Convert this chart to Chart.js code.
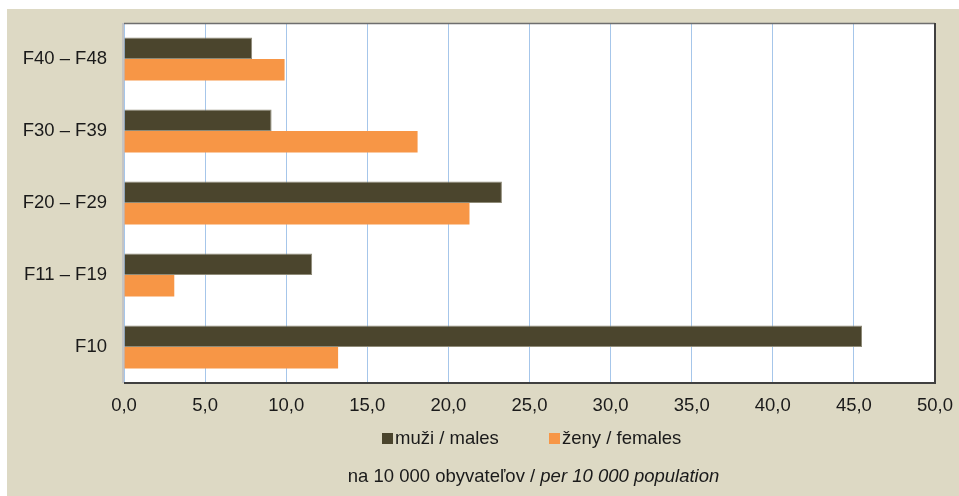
<!DOCTYPE html>
<html>
<head>
<meta charset="utf-8">
<script src="https://cdn.jsdelivr.net/npm/chart.js@4.4.1/dist/chart.umd.min.js"></script>
<style>
html,body{margin:0;padding:0;background:#ffffff;}
#wrap{position:relative;width:959px;height:496px;}
</style>
</head>
<body>
<div id="wrap"><canvas id="c" width="959" height="496"></canvas></div>
<script>
const categories = ['F40 – F48', 'F30 – F39', 'F20 – F29', 'F11 – F19', 'F10'];
const males = [7.9, 9.1, 23.3, 11.6, 45.5];
const females = [9.9, 18.1, 21.3, 3.1, 13.2];
const seriesNames = ['muži / males', 'ženy / females'];
const footerNormal = 'na 10 000 obyvateľov / ';
const footerItalic = 'per 10 000 population';

const FONT = '"Liberation Sans", Arial, sans-serif';
const FS = 18.5;
const colMales = '#4b452d';
const colFemales = '#f79646';

const bgPlugin = {
  id: 'bg',
  beforeDraw(chart) {
    const ctx = chart.ctx;
    ctx.save();
    ctx.fillStyle = '#ffffff';
    ctx.fillRect(0, 0, chart.width, chart.height);
    ctx.fillStyle = '#ddd9c4';
    ctx.fillRect(7, 9, chart.width - 7, chart.height - 9);
    const a = chart.chartArea;
    ctx.fillStyle = '#ffffff';
    ctx.fillRect(a.left, a.top, a.right - a.left, a.bottom - a.top);
    ctx.restore();
  },
  afterDraw(chart) {
    const ctx = chart.ctx;
    const a = chart.chartArea;
    ctx.save();
    ctx.lineWidth = 1.5;
    ctx.strokeStyle = '#6e6e6e';
    ctx.beginPath(); ctx.moveTo(a.left, a.top + 0.5); ctx.lineTo(a.right, a.top + 0.5); ctx.stroke();
    ctx.strokeStyle = '#c4c4c4';
    ctx.lineWidth = 2;
    ctx.beginPath(); ctx.moveTo(a.left - 1, a.top); ctx.lineTo(a.left - 1, a.bottom); ctx.stroke();
    ctx.strokeStyle = '#404040';
    ctx.lineWidth = 2;
    ctx.beginPath(); ctx.moveTo(a.left, a.bottom); ctx.lineTo(a.right, a.bottom); ctx.lineTo(a.right, a.top); ctx.stroke();

    // legend
    ctx.font = FS + 'px ' + FONT;
    ctx.textBaseline = 'middle';
    ctx.textAlign = 'left';
    const ly = 439;
    const items = [{x: 382, c: colMales, t: seriesNames[0]}, {x: 549, c: colFemales, t: seriesNames[1]}];
    items.forEach(it => {
      ctx.fillStyle = it.c;
      ctx.fillRect(it.x, ly - 6, 11, 11);
      ctx.fillStyle = '#1a1a1a';
      ctx.fillText(it.t, it.x + 13, ly);
    });

    // footer
    const fy = 477;
    ctx.font = FS + 'px ' + FONT;
    const w1 = ctx.measureText(footerNormal).width;
    ctx.font = 'italic ' + FS + 'px ' + FONT;
    const w2 = ctx.measureText(footerItalic).width;
    let x = 533.5 - (w1 + w2) / 2;
    ctx.fillStyle = '#1a1a1a';
    ctx.font = FS + 'px ' + FONT;
    ctx.fillText(footerNormal, x, fy);
    ctx.font = 'italic ' + FS + 'px ' + FONT;
    ctx.fillText(footerItalic, x + w1, fy);
    ctx.restore();
  }
};

function zeroPad(s) { s.paddingLeft = 0; s.paddingRight = 0; s.paddingTop = 0; s.paddingBottom = 0; }

new Chart(document.getElementById('c'), {
  type: 'bar',
  data: {
    labels: categories,
    datasets: [
      {label: seriesNames[0], data: males, backgroundColor: colMales, borderColor: '#8f8b78', borderWidth: 1, borderSkipped: 'start'},
      {label: seriesNames[1], data: females, backgroundColor: colFemales, borderWidth: 0}
    ]
  },
  options: {
    indexAxis: 'y',
    responsive: false,
    animation: false,
    devicePixelRatio: 1,
    layout: {padding: {left: 0, top: 23, right: 24, bottom: 0}},
    categoryPercentage: 0.6,
    barPercentage: 1.0,
    plugins: {legend: {display: false}, tooltip: {enabled: false}, title: {display: false}},
    scales: {
      x: {
        min: 0, max: 50,
        ticks: {
          stepSize: 5,
          color: '#1a1a1a',
          font: {family: FONT, size: FS},
          padding: 12,
          callback: v => v.toFixed(1).replace('.', ',')
        },
        grid: {color: '#a6c6ea', drawTicks: false, lineWidth: 1},
        border: {display: false},
        afterFit(s) { s.height = 113; zeroPad(s); }
      },
      y: {
        ticks: {color: '#1a1a1a', font: {family: FONT, size: FS}, padding: 17},
        grid: {display: false, drawTicks: false},
        border: {display: false},
        afterFit(s) { s.width = 124; zeroPad(s); }
      }
    }
  },
  plugins: [bgPlugin]
});
</script>
</body>
</html>
